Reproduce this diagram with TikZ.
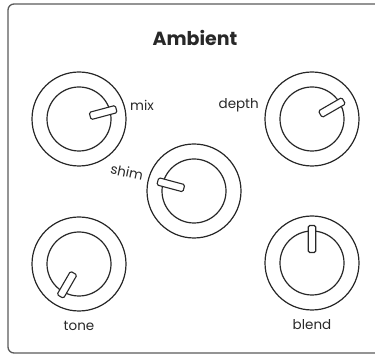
\documentclass[tikz,border=0pt]{standalone}
\usepackage{fontspec}
\setmainfont{Poppins}
\definecolor{inkgray}{RGB}{40, 40, 40}
\definecolor{framegray}{RGB}{90, 90, 90}
\usetikzlibrary{positioning, calc}
\tikzset{
	panel/.style={draw=framegray, line width=1.3pt, rounded corners=6pt},
	ring/.style={circle, draw=inkgray, line width=1.2pt, fill=white, minimum size=94pt, inner sep=0pt},
	knobcap/.style={circle, draw=inkgray, line width=1.2pt, minimum size=64pt, inner sep=0pt},
	pointer/.style={rectangle, rounded corners=1.5pt, draw=inkgray, line width=1.1pt, fill=white, minimum width=27pt, minimum height=7.5pt, inner sep=0pt},
	knoblabel/.style={font=\fontsize{13.5}{15}\selectfont, text=inkgray, inner sep=1pt},
	title/.style={font=\fontsize{19}{21}\selectfont\bfseries, text=inkgray},
}
\begin{document}
\begin{tikzpicture}[x=1pt, y=1pt]
		\useasboundingbox (0,0) rectangle (375,356);
		\clip (0,0) rectangle (375,356);
		\draw[panel] (8,3) rectangle (390,352);
		\node[title] (name) at (195,318) {Ambient};
		% knobs
		\node[ring] (mixring) at (79,237) {};
		\node[knobcap] (mixcap) at (mixring) {};
		\node[ring] (depthring) at (312,237) {};
		\node[knobcap] (depthcap) at (depthring) {};
		\node[ring] (shimring) at (194,165) {};
		\node[knobcap] (shimcap) at (shimring) {};
		\node[ring] (tonering) at (79,92) {};
		\node[knobcap] (tonecap) at (tonering) {};
		\node[ring] (blendring) at (312,93) {};
		\node[knobcap] (blendcap) at (blendring) {};
		% pointers
		\node[pointer, rotate=15] (mixptr) at ($(mixring)+(15:25)$) {};
		\node[pointer, rotate=30] (depthptr) at ($(depthring)+(30:23)$) {};
		\node[pointer, rotate=165] (shimptr) at ($(shimring)+(165:24)$) {};
		\node[pointer, rotate=240] (toneptr) at ($(tonering)+(240:24)$) {};
		\node[pointer, rotate=90] (blendptr) at ($(blendring)+(90:24)$) {};
		% labels
		\node[knoblabel, anchor=west] (mixlbl) at (129,251) {mix};
		\node[knoblabel, anchor=east] (depthlbl) at (260,251) {depth};
		\node[knoblabel, rotate=-12] (shimlbl) at (127,184) {shim};
		\node[knoblabel, below=8pt of tonering] (tonelbl) {tone};
		\node[knoblabel, below=8pt of blendring] (blendlbl) {blend};
	\end{tikzpicture}
\end{document}
